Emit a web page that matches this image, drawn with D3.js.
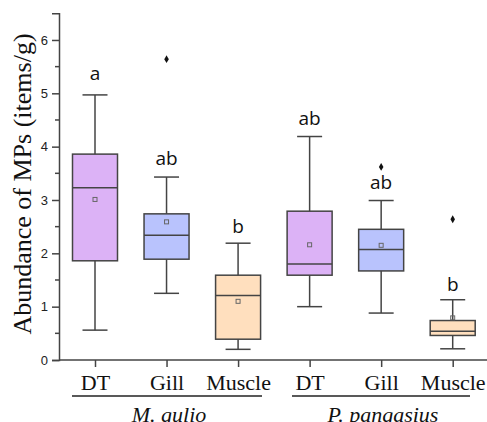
<!DOCTYPE html>
<html>
<head>
<meta charset="utf-8">
<script src="https://cdn.jsdelivr.net/npm/d3@7"></script>
<style>
  body { margin: 0; background: #fff; }
</style>
</head>
<body>
<div id="canvas"></div>
<script>
"use strict"

/* Data */
let species = ["M. gulio", "P. pangasius"];
let tissues = ["DT", "Gill", "Muscle"];
let whiskerLow = [0.56, 1.25, 0.20, 1.00, 0.88, 0.21];
let q1 = [1.86, 1.89, 0.39, 1.59, 1.67, 0.46];
let median = [3.23, 2.34, 1.21, 1.80, 2.07, 0.54];
let q3 = [3.86, 2.74, 1.59, 2.79, 2.45, 0.74];
let whiskerHigh = [4.97, 3.43, 2.19, 4.19, 2.99, 1.13];
let mean = [3.01, 2.59, 1.10, 2.16, 2.15, 0.79];
let outliers = [[], [5.64], [], [], [3.62], [2.64]];
let letters = ["a", "ab", "b", "ab", "ab", "b"];
let letterY = [5.25, 3.65, 2.38, 4.4, 3.2, 1.3];
let yTicks = [0, 1, 2, 3, 4, 5, 6];

let fills = { "DT": "#dcb2f6", "Gill": "#b9c3fd", "Muscle": "#ffdfbe" };

/* Drawing config */
let svgWidth = 487;
let svgHeight = 422;
let left = 59;
let bottom = 360;

let svg = d3.select("#canvas")
    .append("svg")
    .attr("width", svgWidth)
    .attr("height", svgHeight);

let keys = [];
species.forEach(function (s) {
    tissues.forEach(function (t) {
        keys.push(s + "|" + t);
    });
});

let x = d3.scalePoint()
    .domain(keys)
    .range([95, 452.7]);

let y = d3.scaleLinear()
    .domain([0, 6.5])
    .range([bottom, 13.3]);

let boxW = 45;
let capW = 25;

let rows = keys.map(function (k, i) {
    return {
        key: k, tissue: k.split("|")[1],
        lo: whiskerLow[i], q1: q1[i], med: median[i], q3: q3[i],
        hi: whiskerHigh[i], mean: mean[i], out: outliers[i],
        letter: letters[i], ly: letterY[i]
    };
});

let stroke = "#444";

/* boxes */
let g = svg.selectAll("g.box")
    .data(rows)
    .join("g")
    .attr("class", "box")
    .attr("transform", function (d) { return "translate(" + x(d.key) + ",0)"; });

g.append("line")
    .attr("x1", 0).attr("x2", 0)
    .attr("y1", function (d) { return y(d.lo); })
    .attr("y2", function (d) { return y(d.hi); })
    .attr("stroke", stroke).attr("stroke-width", 1.5);

g.selectAll("line.cap")
    .data(function (d) { return [d.lo, d.hi]; })
    .join("line")
    .attr("class", "cap")
    .attr("x1", -capW / 2).attr("x2", capW / 2)
    .attr("y1", function (v) { return y(v); })
    .attr("y2", function (v) { return y(v); })
    .attr("stroke", stroke).attr("stroke-width", 1.5);

g.append("rect")
    .attr("x", -boxW / 2)
    .attr("width", boxW)
    .attr("y", function (d) { return y(d.q3); })
    .attr("height", function (d) { return y(d.q1) - y(d.q3); })
    .attr("fill", function (d) { return fills[d.tissue]; })
    .attr("stroke", stroke).attr("stroke-width", 1.5);

g.append("line")
    .attr("x1", -boxW / 2).attr("x2", boxW / 2)
    .attr("y1", function (d) { return y(d.med); })
    .attr("y2", function (d) { return y(d.med); })
    .attr("stroke", stroke).attr("stroke-width", 1.5);

g.append("rect")
    .attr("x", -2).attr("width", 4)
    .attr("y", function (d) { return y(d.mean) - 2; })
    .attr("height", 4)
    .attr("fill", "none")
    .attr("stroke", "#666").attr("stroke-width", 1);

g.selectAll("path.out")
    .data(function (d) { return d.out; })
    .join("path")
    .attr("class", "out")
    .attr("d", d3.symbol().type(d3.symbolDiamond).size(18))
    .attr("transform", function (v) { return "translate(0," + y(v) + ")"; })
    .attr("fill", "#111");

g.append("text")
    .attr("y", function (d) { return y(d.ly); })
    .attr("text-anchor", "middle")
    .attr("font-family", "'Open Sans', sans-serif")
    .attr("font-size", 19)
    .attr("fill", "#111")
    .text(function (d) { return d.letter; });

/* axes */
let yAxis = svg.append("g")
    .attr("transform", "translate(" + left + ",0)")
    .call(d3.axisLeft(y).tickValues(yTicks).tickSize(7).tickPadding(4).tickFormat(d3.format("d")));
yAxis.selectAll("text")
    .attr("font-family", "'Liberation Sans', Arial, sans-serif")
    .attr("font-size", 13)
    .attr("fill", "#222");

let minor = d3.range(0.5, 6.5, 1);
yAxis.selectAll("line.minor")
    .data(minor)
    .join("line")
    .attr("class", "minor")
    .attr("x1", -4).attr("x2", 0)
    .attr("y1", function (v) { return y(v); })
    .attr("y2", function (v) { return y(v); })
    .attr("stroke", stroke).attr("stroke-width", 1.5);

let xAxis = svg.append("g")
    .attr("transform", "translate(0," + bottom + ")")
    .call(d3.axisBottom(x).tickSize(7).tickPadding(7).tickFormat(function (k) { return k.split("|")[1]; }));
xAxis.select(".domain").attr("d", "M" + left + ",0H" + svgWidth);
xAxis.selectAll("text")
    .attr("font-family", "'Liberation Serif', 'Times New Roman', serif")
    .attr("font-size", 22)
    .attr("fill", "#111");

svg.selectAll(".domain, .tick line")
    .attr("stroke", stroke)
    .attr("stroke-width", 1.5);

/* group underline and species labels */
let groups = [
    { name: species[0], x0: 72, x1: 262 },
    { name: species[1], x0: 292, x1: 470 }
];

svg.selectAll("line.grp")
    .data(groups)
    .join("line")
    .attr("class", "grp")
    .attr("x1", function (d) { return d.x0; })
    .attr("x2", function (d) { return d.x1; })
    .attr("y1", 396).attr("y2", 396)
    .attr("stroke", "#222").attr("stroke-width", 1.5);

svg.selectAll("text.grp")
    .data(groups)
    .join("text")
    .attr("class", "grp")
    .attr("x", function (d) { return (d.x0 + d.x1) / 2 + 2; })
    .attr("y", 422)
    .attr("text-anchor", "middle")
    .attr("font-family", "'Liberation Serif', 'Times New Roman', serif")
    .attr("font-style", "italic")
    .attr("font-size", 22)
    .attr("fill", "#111")
    .text(function (d) { return d.name; });

/* y label */
svg.append("text")
    .attr("transform", "translate(31," + 184 + ") rotate(-90)")
    .attr("text-anchor", "middle")
    .attr("font-family", "'Liberation Serif', 'Times New Roman', serif")
    .attr("font-size", 26)
    .attr("fill", "#111")
    .text("Abundance of MPs (items/g)");
</script>
</body>
</html>
